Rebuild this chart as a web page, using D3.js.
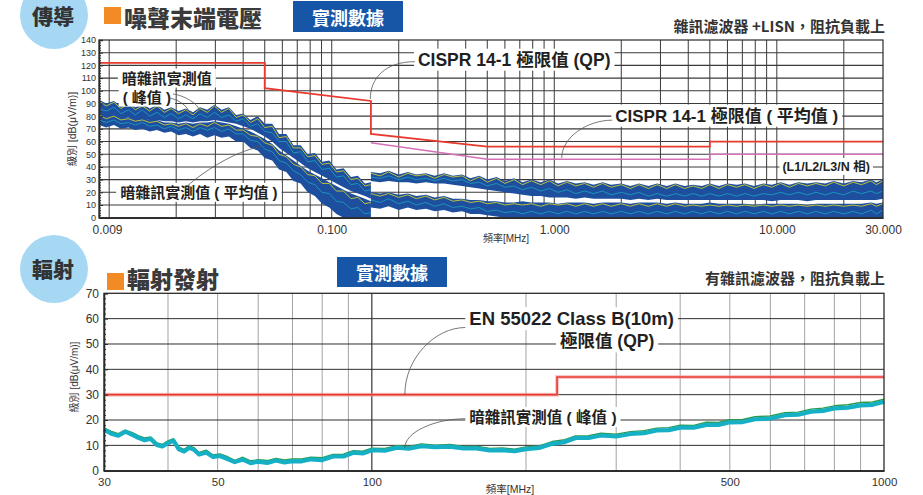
<!DOCTYPE html>
<html>
<head>
<meta charset="utf-8">
<script src="https://cdn.jsdelivr.net/npm/d3@7"></script>
<style>
  body { margin: 0; background: #fff; }
  svg { display: block; font-family: "Liberation Sans", "Noto Sans CJK TC", sans-serif; }
</style>
</head>
<body>
<svg id="chart" width="923" height="495"></svg>
<script>
// ---------------- Conducted emission (terminal voltage), MHz / dBµV ----------------
const condXTicks = [0.009, 0.1, 1, 10, 30];
const condYTicks = [0, 10, 20, 30, 40, 50, 60, 70, 80, 90, 100, 110, 120, 130, 140];

// CISPR 14-1 limits
const qpFreq  = [0.009, 0.05, 0.05, 0.15, 0.15, 0.5, 5, 5, 30];
const qpLevel = [122, 122, 102, 92, 66, 56, 56, 60, 60];
const avFreq  = [0.15, 0.5, 5, 5, 30];
const avLevel = [59, 46, 46, 50, 50];

// Scan 1: 9 kHz – 150 kHz
const scan1Freq = [0.009, 0.0097, 0.0105, 0.0113, 0.0122, 0.0131, 0.0141, 0.0152, 0.0164, 0.0177,
  0.019, 0.0205, 0.0221, 0.0238, 0.0256, 0.0276, 0.0297, 0.032, 0.0345, 0.0372,
  0.04, 0.0431, 0.0465, 0.05, 0.054, 0.058, 0.0625, 0.0673, 0.0725, 0.078,
  0.084, 0.0905, 0.0975, 0.105, 0.113, 0.122, 0.131, 0.141, 0.15];
// peak band (upper / lower edge of the L1/L2/L3/N spread)
const scan1PkHi = [93, 90, 92, 88, 91, 87, 90, 86, 89, 85, 87, 84, 86, 83, 87, 85, 89, 85, 87, 81,
  82, 77, 80, 74, 74, 66, 66, 57, 57, 50, 51, 44, 45, 38, 39, 32, 33, 27, 28];
const scan1PkLo = [81, 79, 80, 78, 79, 77, 78, 77, 77, 76, 76, 75, 76, 75, 76, 76, 77, 76, 75, 74,
  72, 70, 67, 64, 60, 55, 51, 47, 43, 39, 36, 33, 30, 27, 24, 21, 19, 17, 15];
const scan1PkYel = [92, 88, 91, 86, 90, 85, 88, 84, 88, 83, 86, 82, 85, 81, 86, 83, 88, 83, 86, 79,
  81, 75, 78, 71, 72, 63, 64, 55, 55, 48, 49, 42, 43, 36, 37, 30, 31, 25, 26];
const scan1PkCyan = [86, 84, 87, 82, 85, 81, 85, 80, 83, 79, 82, 78, 81, 78, 82, 79, 83, 79, 81, 76,
  78, 72, 74, 68, 67, 60, 60, 51, 52, 44, 45, 38, 39, 32, 33, 26, 27, 21, 22];
// average band
const scan1AvHi = [82, 80, 81, 79, 79, 78, 79, 77, 77, 75, 75, 74, 75, 74, 75, 75, 76, 75, 74, 72,
  70, 68, 65, 62, 58, 53, 49, 45, 41, 37, 34, 31, 28, 25, 22, 19, 17, 15, 13];
const scan1AvLo = [73, 71, 73, 70, 71, 69, 70, 68, 69, 67, 68, 65, 66, 64, 66, 63, 65, 63, 64, 60,
  60, 55, 53, 47, 45, 38, 36, 29, 27, 20, 17, 11, 8, 3, 0, 0, 0, 0, 0];
const scan1AvYel = [81, 78, 80, 77, 78, 76, 77, 75, 76, 73, 74, 72, 74, 71, 74, 72, 75, 72, 73, 69,
  69, 65, 64, 59, 57, 50, 48, 42, 40, 34, 33, 27, 27, 21, 21, 15, 16, 11, 12];
const scan1AvCyan = [77, 75, 77, 74, 75, 73, 75, 72, 73, 70, 72, 69, 71, 68, 71, 69, 71, 68, 70, 66,
  66, 61, 60, 54, 52, 45, 43, 37, 34, 28, 26, 20, 19, 13, 12, 7, 8, 3, 4];

// Scan 2: 150 kHz – 30 MHz
const scan2Freq = [0.15, 0.165, 0.18, 0.2, 0.22, 0.24, 0.265, 0.29, 0.32, 0.35,
  0.385, 0.42, 0.46, 0.5, 0.55, 0.6, 0.66, 0.72, 0.79, 0.87,
  0.95, 1.04, 1.14, 1.25, 1.37, 1.5, 1.65, 1.8, 2.0, 2.2,
  2.4, 2.65, 2.9, 3.2, 3.5, 3.85, 4.2, 4.6, 5.0, 5.5,
  6.0, 6.6, 7.2, 7.9, 8.7, 9.5, 10.4, 11.4, 12.5, 13.7,
  15, 16.5, 18, 20, 22, 24, 26.5, 28, 30];
const scan2PkHi = [36, 35, 37, 34, 36, 34, 35, 33, 35, 33, 34, 31, 33, 30, 32, 29, 31, 28, 30, 28,
  30, 27, 29, 27, 28, 26, 28, 26, 27, 25, 27, 25, 27, 25, 27, 25, 26, 25, 27, 25,
  27, 26, 27, 25, 27, 26, 28, 26, 28, 27, 28, 27, 29, 27, 29, 28, 30, 28, 30];
const scan2PkLo = [29, 28, 29, 28, 28, 27, 28, 27, 27, 26, 25, 24, 23, 22, 21, 20, 19, 18, 17, 17,
  16, 16, 16, 15, 16, 15, 15, 15, 15, 14, 15, 14, 15, 14, 14, 14, 14, 14, 14, 14,
  14, 14, 14, 14, 14, 13, 14, 14, 14, 13, 14, 14, 14, 14, 14, 14, 14, 14, 15];
const scan2PkYel = [35, 33, 36, 32, 35, 33, 34, 31, 34, 32, 33, 29, 32, 28, 31, 27, 30, 26, 29, 26,
  29, 25, 28, 25, 27, 24, 27, 24, 26, 23, 26, 23, 26, 23, 26, 23, 25, 23, 26, 23,
  26, 24, 26, 23, 26, 24, 27, 24, 27, 25, 27, 25, 28, 25, 28, 26, 29, 26, 29];
const scan2PkCyan = [32, 31, 33, 30, 32, 30, 31, 29, 31, 29, 30, 27, 28, 25, 27, 24, 25, 22, 24, 21,
  23, 20, 22, 19, 21, 19, 21, 18, 20, 18, 20, 17, 19, 17, 19, 17, 19, 17, 19, 17,
  19, 17, 19, 17, 19, 18, 20, 18, 20, 18, 20, 18, 20, 18, 21, 19, 21, 19, 21];
const scan2AvHi = [20, 19, 20, 18, 19, 17, 18, 16, 17, 15, 15, 14, 14, 13, 13, 12, 12, 13, 12, 12,
  12, 11, 12, 12, 12, 11, 12, 12, 12, 11, 12, 12, 12, 11, 12, 11, 11, 11, 12, 11,
  11, 11, 11, 10, 11, 11, 11, 11, 11, 10, 11, 11, 11, 11, 11, 11, 12, 11, 12];
const scan2AvLo = [8, 7, 9, 6, 8, 6, 7, 5, 6, 4, 5, 3, 3, 2, 1, 0, 0, 0, 0, 0,
  0, 0, 0, 0, 0, 0, 0, 0, 0, 0, 0, 0, 0, 0, 0, 0, 0, 0, 0, 0,
  0, 0, 0, 0, 0, 0, 0, 0, 0, 0, 0, 0, 0, 0, 0, 0, 0, 0, 0];
const scan2AvYel = [19, 17, 19, 16, 18, 15, 17, 14, 16, 13, 14, 12, 13, 11, 12, 10, 11, 10, 11, 9,
  11, 10, 11, 9, 11, 9, 11, 9, 11, 9, 11, 9, 11, 9, 11, 9, 10, 9, 10, 9,
  10, 9, 10, 9, 10, 9, 10, 9, 10, 9, 10, 9, 10, 9, 10, 9, 11, 9, 11];
const scan2AvCyan = [14, 12, 15, 11, 13, 10, 12, 9, 11, 8, 9, 7, 8, 5, 6, 4, 5, 3, 5, 3,
  5, 3, 5, 3, 5, 3, 5, 3, 5, 3, 5, 3, 5, 3, 5, 3, 5, 3, 5, 3,
  5, 3, 5, 3, 5, 3, 5, 3, 5, 3, 5, 3, 5, 3, 5, 3, 6, 3, 6];

// ---------------- Radiated emission, MHz / dBµV/m ----------------
const radXTicks = [30, 50, 100, 500, 1000];
const radYTicks = [0, 10, 20, 30, 40, 50, 60, 70];
const enFreq  = [30, 230, 230, 1000];
const enLevel = [30, 30, 37, 37];
const radFreq = [30, 31, 32, 33, 34, 35, 36, 37, 38, 39,
  40, 41, 42, 43, 44, 45, 46, 47.5, 49, 50.5,
  52, 54, 56, 58, 60, 62.5, 65, 67.5, 70, 73,
  76, 80, 84, 88, 92, 96, 100, 106, 112, 118,
  125, 133, 142, 151, 160, 170, 180, 190, 200, 212,
  225, 238, 250, 265, 280, 300, 320, 340, 360, 380,
  400, 425, 450, 475, 500, 530, 560, 600, 640, 680,
  720, 760, 800, 850, 900, 950, 1000];
const radPeak = [16.9, 15.5, 14.6, 16.0, 15.1, 13.8, 12.9, 13.3, 11.1, 10.4,
  11.8, 12.6, 9.3, 8.4, 9.8, 9.1, 7.2, 8.1, 6.2, 6.6,
  5.7, 4.1, 5.3, 3.9, 4.3, 4.0, 4.8, 4.2, 4.6, 4.6,
  5.3, 5.1, 6.4, 6.5, 7.9, 7.7, 8.9, 8.8, 9.9, 9.6,
  10.6, 10.1, 10.4, 9.6, 9.7, 8.8, 9.0, 8.5, 9.4, 9.8,
  11.5, 12.2, 13.7, 13.8, 14.8, 14.4, 15.4, 15.8, 16.8, 17.0,
  18.0, 17.9, 19.1, 19.0, 20.1, 20.2, 21.3, 21.6, 22.9, 23.1,
  24.3, 24.7, 25.6, 26.0, 26.9, 27.1, 28.2];
const radLevel = [16.2, 14.6, 13.8, 15.4, 14.2, 13.0, 12.0, 12.6, 10.2, 9.6,
  10.9, 11.9, 8.4, 7.6, 9.0, 8.2, 6.4, 7.2, 5.4, 5.8,
  4.8, 3.4, 4.4, 3.0, 3.6, 3.1, 4.0, 3.3, 3.8, 3.7,
  4.5, 4.2, 5.6, 5.6, 7.1, 6.8, 8.1, 7.9, 9.1, 8.7,
  9.7, 9.3, 9.5, 8.8, 8.8, 8.0, 8.1, 7.7, 8.5, 9.0,
  10.6, 11.3, 12.9, 12.9, 13.9, 13.5, 14.5, 14.8, 15.9, 16.0,
  17.0, 17.0, 18.1, 18.1, 19.1, 19.2, 20.3, 20.6, 21.9, 22.1,
  23.3, 23.6, 24.6, 24.9, 25.8, 26.0, 27.2];

// ---------------- palette ----------------
const INK = "#2b2b2b", GRID = "#3a3a3a";
const BLUE = "#1e4f9f", YEL = "#ece41a", CYAN = "#1ba4bf", GREEN = "#2a9a48";
const RED = "#e8392f", PINK = "#d470b6";
const CJK = "'Noto Sans CJK TC', sans-serif";

const svg = d3.select("#chart");
const zip = (fs, vs) => fs.map((f, i) => ({ f, v: vs[i] }));

function boxedLabel(g, x, y, str, size, opts = {}) {
  const t = g.append("text").attr("x", x).attr("y", y)
    .attr("dominant-baseline", "central")
    .attr("font-size", size).attr("font-weight", "bold").attr("fill", "#231f20").text(str);
  const b = t.node().getBBox();
  const px = opts.padX ?? 4, py = opts.padY ?? 1;
  g.insert("rect", () => t.node())
    .attr("x", b.x - px).attr("y", b.y - py)
    .attr("width", b.width + 2 * px).attr("height", b.height + 2 * py)
    .attr("fill", "#fff");
  return b;
}
function leader(g, x0, y0, x1, y1, bend) {
  const p = d3.path();
  p.moveTo(x0, y0);
  p.bezierCurveTo(x0 - bend, y0, x1, y1 - (y1 - y0) * 0.55, x1, y1);
  g.append("path").attr("d", p.toString()).attr("fill", "none")
    .attr("stroke", "#555").attr("stroke-width", 0.8);
}

// ================= headers =================
svg.append("circle").attr("cx", 54).attr("cy", 15).attr("r", 34).attr("fill", "#a6d8f3");
svg.append("text").attr("x", 53).attr("y", 15).attr("text-anchor", "middle").attr("dominant-baseline", "central")
  .style("font-family", CJK).attr("font-size", 21).attr("font-weight", 900).attr("fill", "#333").text("傳導");
svg.append("rect").attr("x", 104).attr("y", 7).attr("width", 17).attr("height", 17).attr("fill", "#f28b26");
svg.append("text").attr("x", 124).attr("y", 17).attr("dominant-baseline", "central")
  .style("font-family", CJK).attr("font-size", 23).attr("font-weight", 900).attr("fill", "#3a3a3a").text("噪聲末端電壓");
svg.append("rect").attr("x", 293).attr("y", 1).attr("width", 110).attr("height", 31).attr("fill", "#1756a6");
svg.append("text").attr("x", 348).attr("y", 16.5).attr("text-anchor", "middle").attr("dominant-baseline", "central")
  .style("font-family", CJK).attr("font-size", 18).attr("font-weight", 700).attr("fill", "#fff").text("實測數據");
svg.append("text").attr("x", 885).attr("y", 25).attr("text-anchor", "end").attr("dominant-baseline", "central")
  .style("font-family", CJK).attr("font-size", 15).attr("font-weight", 700).attr("fill", "#333").text("雜訊濾波器 +LISN，阻抗負載上");

svg.append("circle").attr("cx", 54).attr("cy", 269).attr("r", 34).attr("fill", "#a6d8f3");
svg.append("text").attr("x", 53).attr("y", 268).attr("text-anchor", "middle").attr("dominant-baseline", "central")
  .style("font-family", CJK).attr("font-size", 21).attr("font-weight", 900).attr("fill", "#333").text("輻射");
svg.append("rect").attr("x", 107).attr("y", 273).attr("width", 17).attr("height", 17).attr("fill", "#f28b26");
svg.append("text").attr("x", 127).attr("y", 278).attr("dominant-baseline", "central")
  .style("font-family", CJK).attr("font-size", 23).attr("font-weight", 900).attr("fill", "#3a3a3a").text("輻射發射");
svg.append("rect").attr("x", 337).attr("y", 257).attr("width", 110).attr("height", 30).attr("fill", "#1756a6");
svg.append("text").attr("x", 392).attr("y", 272).attr("text-anchor", "middle").attr("dominant-baseline", "central")
  .style("font-family", CJK).attr("font-size", 18).attr("font-weight", 700).attr("fill", "#fff").text("實測數據");
svg.append("text").attr("x", 885).attr("y", 277).attr("text-anchor", "end").attr("dominant-baseline", "central")
  .style("font-family", CJK).attr("font-size", 15).attr("font-weight", 700).attr("fill", "#333").text("有雜訊濾波器，阻抗負載上");

// ================= conducted panel =================
const cx = d3.scaleLog().domain([0.009, 30]).range([99, 883]);
const cy = d3.scaleLinear().domain([0, 140]).range([217.7, 40]);
const condG = svg.append("g");

condG.append("g").selectAll("line")
  .data(cx.ticks().filter(f => f > 0.0091 && f < 29.9))
  .join("line").attr("x1", d => cx(d)).attr("x2", d => cx(d))
  .attr("y1", cy(0)).attr("y2", cy(140)).attr("stroke", GRID).attr("stroke-width", 1);
condG.append("g").selectAll("line")
  .data(condYTicks.filter(v => v > 0 && v < 140))
  .join("line").attr("x1", cx(0.009)).attr("x2", cx(30))
  .attr("y1", d => cy(d)).attr("y2", d => cy(d)).attr("stroke", GRID).attr("stroke-width", 1.1);

condG.append("clipPath").attr("id", "clipTop").append("rect")
  .attr("x", cx(0.009)).attr("y", cy(140)).attr("width", cx(30) - cx(0.009)).attr("height", cy(0) - cy(140));
const traces = condG.append("g").attr("clip-path", "url(#clipTop)");
const cLine = d3.line().x(d => cx(d.f)).y(d => cy(d.v));
const cArea = d3.area().x(d => cx(d.f)).y0(d => cy(d.lo)).y1(d => cy(d.hi));

function band(freq, hi, lo, yel, cyan) {
  traces.append("path").datum(freq.map((f, i) => ({ f, hi: hi[i], lo: lo[i] })))
    .attr("d", cArea).attr("fill", BLUE);
  traces.append("path").datum(zip(freq, yel)).attr("d", cLine)
    .attr("fill", "none").attr("stroke", YEL).attr("stroke-width", 0.85).attr("opacity", 0.9);
  traces.append("path").datum(zip(freq, cyan)).attr("d", cLine)
    .attr("fill", "none").attr("stroke", CYAN).attr("stroke-width", 0.8);
}
band(scan1Freq, scan1PkHi, scan1PkLo, scan1PkYel, scan1PkCyan);
band(scan1Freq, scan1AvHi, scan1AvLo, scan1AvYel, scan1AvCyan);
band(scan2Freq, scan2PkHi, scan2PkLo, scan2PkYel, scan2PkCyan);
band(scan2Freq, scan2AvHi, scan2AvLo, scan2AvYel, scan2AvCyan);

condG.append("path").datum(zip(avFreq, avLevel)).attr("d", cLine)
  .attr("fill", "none").attr("stroke", PINK).attr("stroke-width", 1.6);
condG.append("path").datum(zip(qpFreq, qpLevel)).attr("d", cLine)
  .attr("fill", "none").attr("stroke", RED).attr("stroke-width", 1.8);

// frame
condG.append("rect").attr("x", cx(0.009)).attr("y", cy(140))
  .attr("width", cx(30) - cx(0.009)).attr("height", cy(0) - cy(140))
  .attr("fill", "none").attr("stroke", INK).attr("stroke-width", 1.2);

// axes
const cyAxis = condG.append("g").attr("transform", `translate(${cx(0.009)},0)`)
  .call(d3.axisLeft(cy).tickValues(condYTicks).tickSize(-4).tickPadding(3));
cyAxis.select(".domain").attr("stroke", INK).attr("stroke-width", 1.5);
cyAxis.selectAll("text").attr("font-size", 9).attr("fill", "#333");
cyAxis.selectAll("line").attr("stroke", INK);
condG.append("g").attr("transform", `translate(${cx(0.009)},0)`)
  .call(d3.axisLeft(cy).tickValues(d3.range(0, 141, 2).filter(v => v % 10 !== 0)).tickSize(-2).tickFormat(""))
  .call(g => g.select(".domain").remove()).selectAll("line").attr("stroke", INK);

const cxAxis = condG.append("g").attr("transform", `translate(0,${cy(0)})`)
  .call(d3.axisBottom(cx).tickValues(condXTicks).tickFormat(d3.format(".3f")).tickSize(0).tickPadding(8));
cxAxis.select(".domain").attr("stroke", INK).attr("stroke-width", 1.6);
cxAxis.selectAll("text").attr("font-size", 12).attr("fill", "#333")
  .attr("dx", (d, i) => (i === 0 ? 8 : 0));

condG.append("text").attr("x", 506).attr("y", 238).attr("text-anchor", "middle").attr("dominant-baseline", "central")
  .attr("font-size", 10).attr("fill", "#333").text("頻率[MHz]");
condG.append("text").attr("transform", `translate(72,129) rotate(-90)`).attr("text-anchor", "middle")
  .attr("dominant-baseline", "central").attr("font-size", 10.5).attr("fill", "#333").text("級別 [dB(μV/m)]");

// annotations
const ann = condG.append("g");
boxedLabel(ann, cx(0.0114), cy(110), "暗雜訊實測值", 15);
const pkB = boxedLabel(ann, cx(0.0115), cy(95), "( 峰值 )", 15);
const avB = boxedLabel(ann, cx(0.0112), cy(20), "暗雜訊實測值 ( 平均值 )", 15);
const qpB = boxedLabel(ann, cx(0.244), cy(124.5), "CISPR 14-1 極限值 (QP)", 17.5);
const avLB = boxedLabel(ann, cx(1.88), cy(80), "CISPR 14-1 極限值 ( 平均值 )", 17);
boxedLabel(ann, cx(10.6), cy(40), "(L1/L2/L3/N 相)", 12.5, { padX: 3 });

leader(ann, qpB.x - 3, cy(124.5) + 2, cx(0.149), cy(93.5), 30);
leader(ann, avLB.x - 3, cy(80) + 4, cx(1.08), cy(47), 25);
leader(ann, pkB.x + pkB.width - 2, cy(95) + 1, cx(0.023), cy(81), -6);
leader(ann, pkB.x + pkB.width + 2, cy(95) - 3, cx(0.0255), cy(83), -6);
{
  const p = d3.path();
  p.moveTo(cx(0.0225), avB.y + 2);
  p.bezierCurveTo(cx(0.026), cy(35), cx(0.036), cy(52), cx(0.048), cy(56));
  ann.append("path").attr("d", p.toString()).attr("fill", "none").attr("stroke", "#555").attr("stroke-width", 0.8);
}

// ================= radiated panel =================
const bx = d3.scaleLog().domain([30, 1000]).range([104, 884]);
const by = d3.scaleLinear().domain([0, 70]).range([470.7, 293.3]);
const radG = svg.append("g");

radG.append("g").selectAll("line")
  .data(bx.ticks().filter(f => f > 30.5 && f < 999))
  .join("line").attr("x1", d => bx(d)).attr("x2", d => bx(d))
  .attr("y1", by(0)).attr("y2", by(70))
  .attr("stroke", d => (d === 100 ? "#444" : "#a3a3a3")).attr("stroke-width", d => (d === 100 ? 1.3 : 1));
radG.append("g").selectAll("line")
  .data(radYTicks.filter(v => v > 0 && v < 70))
  .join("line").attr("x1", bx(30)).attr("x2", bx(1000))
  .attr("y1", d => by(d)).attr("y2", d => by(d)).attr("stroke", "#2f2f2f").attr("stroke-width", 1);

const bLine = d3.line().x(d => bx(d.f)).y(d => by(d.v));
radG.append("path").datum(zip(enFreq, enLevel)).attr("d", bLine)
  .attr("fill", "none").attr("stroke", "#f3a3a3").attr("stroke-width", 4).attr("opacity", 0.6);
radG.append("path").datum(zip(enFreq, enLevel)).attr("d", bLine)
  .attr("fill", "none").attr("stroke", RED).attr("stroke-width", 1.6);

radG.append("path").datum(zip(radFreq, radPeak)).attr("d", bLine)
  .attr("fill", "none").attr("stroke", GREEN).attr("stroke-width", 1.4).attr("stroke-linejoin", "round");
radG.append("path").datum(zip(radFreq, radLevel)).attr("d", bLine)
  .attr("fill", "none").attr("stroke", "#16b0c6").attr("stroke-width", 4.2).attr("stroke-linejoin", "round");

radG.append("rect").attr("x", bx(30)).attr("y", by(70))
  .attr("width", bx(1000) - bx(30)).attr("height", by(0) - by(70))
  .attr("fill", "none").attr("stroke", INK).attr("stroke-width", 1.3);

const byAxis = radG.append("g").attr("transform", `translate(${bx(30)},0)`)
  .call(d3.axisLeft(by).tickValues(radYTicks).tickSize(-4).tickPadding(5));
byAxis.select(".domain").attr("stroke", INK).attr("stroke-width", 1.6);
byAxis.selectAll("text").attr("font-size", 12).attr("fill", "#333");
byAxis.selectAll("line").attr("stroke", INK);
radG.append("g").attr("transform", `translate(${bx(30)},0)`)
  .call(d3.axisLeft(by).tickValues(d3.range(0, 71, 2).filter(v => v % 10 !== 0)).tickSize(-2).tickFormat(""))
  .call(g => g.select(".domain").remove()).selectAll("line").attr("stroke", INK);

const bxAxis = radG.append("g").attr("transform", `translate(0,${by(0)})`)
  .call(d3.axisBottom(bx).tickValues(radXTicks).tickFormat(d3.format("d")).tickSize(0).tickPadding(7));
bxAxis.select(".domain").attr("stroke", INK).attr("stroke-width", 1.6);
bxAxis.selectAll("text").attr("font-size", 11.5).attr("fill", "#333");

radG.append("text").attr("x", 510).attr("y", 489).attr("text-anchor", "middle").attr("dominant-baseline", "central")
  .attr("font-size", 10.5).attr("fill", "#333").text("頻率[MHz]");
radG.append("text").attr("transform", `translate(74,377) rotate(-90)`).attr("text-anchor", "middle")
  .attr("dominant-baseline", "central").attr("font-size", 10).attr("fill", "#333").text("級別 [dB(μV/m)]");

const ann2 = radG.append("g");
const enB = boxedLabel(ann2, bx(155), by(60), "EN 55022 Class B(10m)", 18.5);
boxedLabel(ann2, bx(233), by(51), "極限值 (QP)", 17.5);
const nzB = boxedLabel(ann2, bx(155), by(21), "暗雜訊實測值 ( 峰值 )", 15.5);
leader(ann2, enB.x - 4, by(56.5), bx(116), by(30), 30);
leader(ann2, nzB.x - 4, by(20.5), bx(116), by(9), 30);
</script>
</body>
</html>
